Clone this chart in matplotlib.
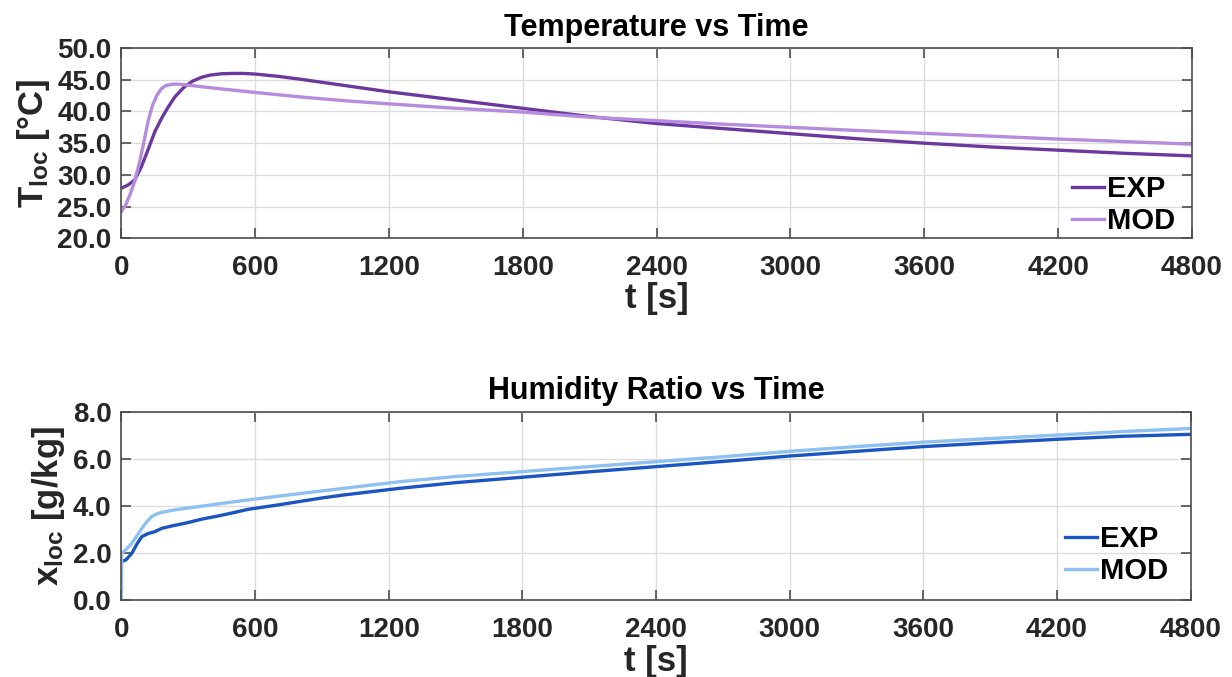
import numpy as np
from matplotlib import pyplot as plt

# temperature
t_temp_exp = [0, 30, 60, 90, 120, 150, 180, 210, 240, 280, 320, 360, 400, 450, 500, 550, 600,
              700, 800, 900, 1000, 1200, 1500, 1800, 2100, 2400, 2700, 3000, 3300, 3600,
              3900, 4200, 4500, 4800]
T_exp = [27.9, 28.4, 29.2, 31.3, 34.0, 36.8, 38.9, 40.7, 42.3, 43.8, 44.8, 45.4, 45.75, 45.95,
         46.0, 46.0, 45.9, 45.55, 45.1, 44.6, 44.1, 43.1, 41.8, 40.5, 39.2, 38.1, 37.3, 36.5,
         35.7, 35.0, 34.4, 33.9, 33.4, 33.0]

t_temp_mod = [0, 20, 40, 60, 80, 100, 120, 140, 160, 180, 200, 230, 260, 300, 360, 450, 600,
              800, 1000, 1200, 1500, 1800, 2100, 2400, 2700, 3000, 3300, 3600, 3900, 4200,
              4500, 4800]
T_mod = [24.2, 25.3, 27.0, 29.0, 31.8, 35.0, 38.5, 41.0, 42.6, 43.6, 44.1, 44.3, 44.3, 44.15,
         43.9, 43.55, 43.0, 42.3, 41.7, 41.2, 40.5, 39.9, 39.1, 38.55, 38.0, 37.5, 37.0, 36.55,
         36.1, 35.65, 35.25, 34.85]

# humidity ratio
t_hum_exp = [0, 20, 47, 70, 92, 120, 150, 181, 230, 287, 360, 436, 500, 570, 700, 900, 1000,
             1250, 1500, 1800, 2100, 2400, 2700, 3000, 3300, 3600, 3900, 4200, 4500, 4800]
x_exp = [1.65, 1.72, 2.0, 2.4, 2.71, 2.84, 2.92, 3.06, 3.17, 3.28, 3.45, 3.59, 3.72, 3.87,
         4.05, 4.35, 4.48, 4.76, 5.0, 5.23, 5.46, 5.68, 5.9, 6.13, 6.33, 6.53, 6.69, 6.84,
         6.97, 7.05]

t_hum_mod = [0, 1, 20, 47, 70, 92, 115, 136, 160, 181, 230, 287, 360, 436, 570, 700, 900,
             1000, 1250, 1500, 1800, 2100, 2400, 2700, 3000, 3300, 3600, 3900, 4200, 4500, 4800]
x_mod = [0.0, 2.0, 2.15, 2.43, 2.75, 3.06, 3.35, 3.56, 3.68, 3.74, 3.83, 3.91, 4.0, 4.1, 4.27,
         4.42, 4.65, 4.76, 5.04, 5.26, 5.47, 5.68, 5.89, 6.1, 6.33, 6.53, 6.72, 6.87, 7.02,
         7.17, 7.3]

xticks = np.arange(0, 4801, 600)

plt.rcParams['font.family'] = ['Liberation Sans', 'DejaVu Sans']
plt.rcParams['font.weight'] = 'bold'
plt.rcParams['mathtext.fontset'] = 'custom'
plt.rcParams['mathtext.rm'] = 'Liberation Sans:bold'
plt.rcParams['mathtext.bf'] = 'Liberation Sans:bold'
plt.rcParams['mathtext.it'] = 'Liberation Sans:bold'

txt_col = '#262626'


def style_axes(ax, yticks, yfmt, title, ylabel, leg_anchor):
    ax.set_xlim(0, 4800)
    ax.set_xticks(xticks)
    ax.set_ylim(yticks[0], yticks[-1])
    ax.set_yticks(yticks)
    ax.set_yticklabels([yfmt % v for v in yticks])
    ax.grid(True, color='#dcdcdc', linewidth=1.0)
    ax.set_axisbelow(True)
    ax.tick_params(direction='in', length=7, width=1.2, top=True, right=True,
                   labelsize=20, colors='#4d4d4d', labelcolor=txt_col)
    ax.tick_params(axis='x', pad=12)
    ax.tick_params(axis='y', pad=7)
    for s in ax.spines.values():
        s.set_color('#4d4d4d')
        s.set_linewidth(1.2)
    ax.set_title(title, fontsize=22, fontweight='bold', pad=9, color='black')
    ax.set_xlabel('t [s]', fontsize=25, fontweight='bold', color=txt_col, labelpad=1)
    ax.set_ylabel(ylabel, fontsize=25, fontweight='bold', color=txt_col, labelpad=4)
    leg = ax.legend(loc='lower right', bbox_to_anchor=leg_anchor, frameon=False,
                    fontsize=21, handlelength=1.1, handletextpad=0.1, labelspacing=0.15,
                    borderaxespad=0, borderpad=0)
    for tx in leg.get_texts():
        tx.set_fontweight('bold')


fig = plt.figure(figsize=(12.32, 6.77), dpi=100)
ax1 = fig.add_axes([0.0985, 0.648, 0.869, 0.281])
ax2 = fig.add_axes([0.0985, 0.113, 0.868, 0.2785])

ax1.plot(t_temp_exp, T_exp, color='#6B389E', lw=2.4, label='EXP')
ax1.plot(t_temp_mod, T_mod, color='#B78BDD', lw=2.4, label='MOD')
style_axes(ax1, np.arange(20, 50.1, 5), '%.1f', 'Temperature vs Time',
           r'$\mathregular{T_{loc}}$ [°C]', (0.984, 0.015))

ax2.plot(t_hum_exp, x_exp, color='#1B55C2', lw=2.4, label='EXP')
ax2.plot(t_hum_mod, x_mod, color='#8EC1F1', lw=2.4, label='MOD')
style_axes(ax2, np.arange(0, 8.1, 2), '%.1f', 'Humidity Ratio vs Time',
           r'$\mathregular{x_{loc}}$ [g/kg]', (0.979, 0.08))

fig.savefig('out.png', dpi=100)
